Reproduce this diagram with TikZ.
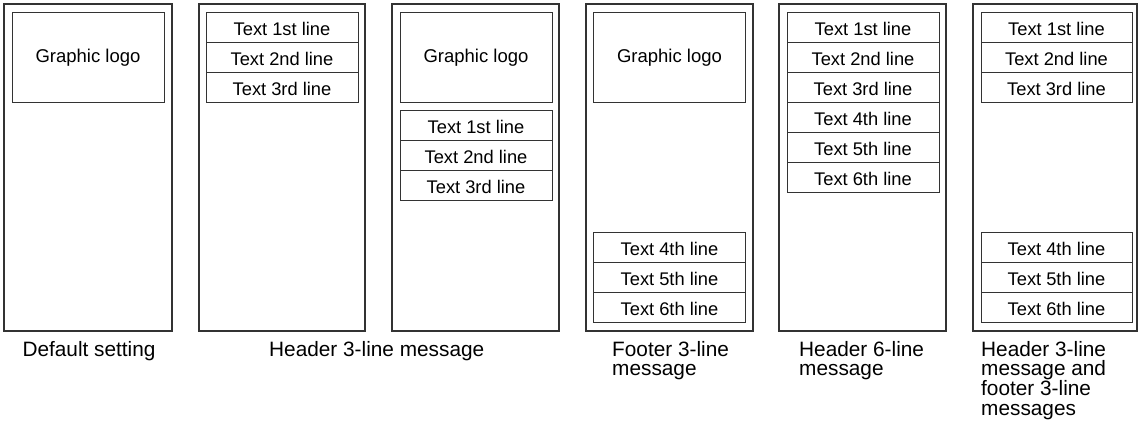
\documentclass[tikz,border=0pt]{standalone}
\usepackage{fontspec}
\setmainfont{Liberation Sans}
\begin{document}
\begin{tikzpicture}[x=1pt,y=-1pt,
  panel/.style={draw=black!80,line width=1.1pt},
  row/.style={draw=black!80,line width=0.9pt,rectangle,minimum width=152pt,minimum height=30pt,inner sep=0pt,
    text height=17pt,text depth=0pt,font=\fontsize{18.3}{22}\selectfont},
  logo/.style={draw=black!80,line width=0.9pt,rectangle,minimum width=152pt,minimum height=90pt,inner sep=0pt,
    text height=11.5pt,text depth=0pt,font=\fontsize{18.5}{22}\selectfont},
  caption/.style={inner sep=0pt,align=left,font=\fontsize{20.8}{19.6}\selectfont}]
\useasboundingbox (0,0) rectangle (1139,427);
% panels
\draw[panel] (4,4) rectangle (172,331);
\draw[panel] (199,4) rectangle (365,331);
\draw[panel] (392,4) rectangle (559,331);
\draw[panel] (586,4) rectangle (753,331);
\draw[panel] (779,4) rectangle (946,331);
\draw[panel] (973,4) rectangle (1137,331);
% panel 1
\node[logo] (l1) at (88,57) {Graphic logo};
% panel 2
\node[row] (a1) at (282,27.5) {Text 1st line};
\node[row] (a2) at (282,57.5) {Text 2nd line};
\node[row] (a3) at (282,87.5) {Text 3rd line};
% panel 3
\node[logo] (l3) at (476,57) {Graphic logo};
\node[row] (b1) at (476,125.5) {Text 1st line};
\node[row] (b2) at (476,155.5) {Text 2nd line};
\node[row] (b3) at (476,185.5) {Text 3rd line};
% panel 4
\node[logo] (l4) at (669.5,57) {Graphic logo};
\node[row] (c4) at (669.5,247.5) {Text 4th line};
\node[row] (c5) at (669.5,277.5) {Text 5th line};
\node[row] (c6) at (669.5,307.5) {Text 6th line};
% panel 5
\node[row] (d1) at (863,27.5) {Text 1st line};
\node[row] (d2) at (863,57.5) {Text 2nd line};
\node[row] (d3) at (863,87.5) {Text 3rd line};
\node[row] (d4) at (863,117.5) {Text 4th line};
\node[row] (d5) at (863,147.5) {Text 5th line};
\node[row] (d6) at (863,177.5) {Text 6th line};
% panel 6
\node[row,minimum width=151pt] (e1) at (1056.5,27.5) {Text 1st line};
\node[row,minimum width=151pt] (e2) at (1056.5,57.5) {Text 2nd line};
\node[row,minimum width=151pt] (e3) at (1056.5,87.5) {Text 3rd line};
\node[row,minimum width=151pt] (e4) at (1056.5,247.5) {Text 4th line};
\node[row,minimum width=151pt] (e5) at (1056.5,277.5) {Text 5th line};
\node[row,minimum width=151pt] (e6) at (1056.5,307.5) {Text 6th line};
% captions
\node[caption,anchor=base] (t1) at (89,356) {Default setting};
\node[caption,anchor=base west] (t2) at (269,356) {Header 3-line message};
\node[caption,anchor=north west] (t4) at (612,341) {Footer 3-line\\message};
\node[caption,anchor=north west] (t5) at (799,341) {Header 6-line\\message};
\node[caption,anchor=north west] (t6) at (981,341) {Header 3-line\\message and\\footer 3-line\\messages};
\end{tikzpicture}
\end{document}
